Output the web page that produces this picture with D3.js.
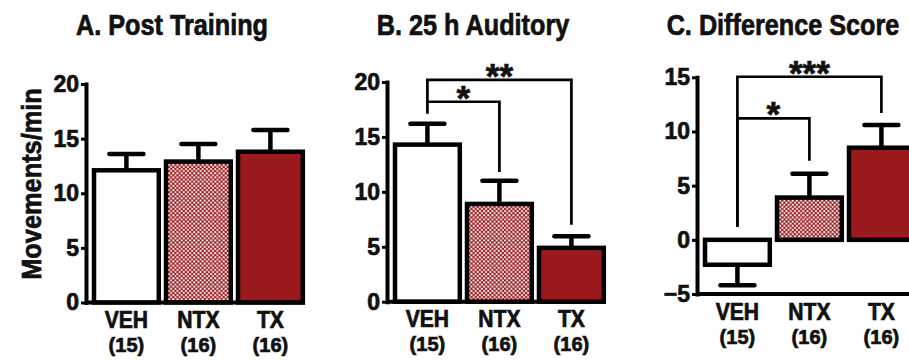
<!DOCTYPE html>
<meta charset="utf-8">
<head>
<script src="https://d3js.org/d3.v7.min.js"></script>
<style>
  body { margin: 0; background: #fff; }
  text { font-family: "Liberation Sans", Arial, sans-serif; font-weight: bold; fill: #111; stroke: #111; stroke-width: 0.7px; }
</style>
</head>
<body>
<div id="chart"></div>
<script>
// groups and sample sizes
var groups = ["VEH", "NTX", "TX"];
var groupN = ["(15)", "(16)", "(16)"];

// panel titles
var titles = ["A. Post Training", "B. 25 h Auditory", "C. Difference Score"];

// means and SEMs
var postMean = [12.1, 12.9, 13.8];
var postSem = [1.5, 1.6, 2.0];
var audMean = [14.3, 8.9, 4.9];
var audSem = [1.9, 2.1, 1.05];
var diffMean = [-2.3, 3.9, 8.5];
var diffSem = [1.9, 2.2, 2.1];

// y axis ticks
var ticksAB = [0, 5, 10, 15, 20];
var ticksC = [-5, 0, 5, 10, 15];

// significance brackets: [from, to, level, left end, right end, label]
var bracketsB = [[0, 1, 18.2, 17.1, 11.8, "*"], [0, 2, 20.2, 18.2, 7.0, "**"]];
var bracketsC = [[0, 1, 11.2, 1.2, 7.3, "*"], [0, 2, 15.05, 1.2, 11.7, "***"]];

var red = "#9b1a1e";

var svg = d3.select("#chart")
  .append("svg")
    .attr("width", 909)
    .attr("height", 362);

// white dots on red for NTX
var pat = svg.append("defs").append("pattern")
    .attr("id", "checks")
    .attr("patternUnits", "userSpaceOnUse")
    .attr("width", 4.2)
    .attr("height", 4.2);
pat.append("rect").attr("width", 4.2).attr("height", 4.2).attr("fill", red);
pat.append("circle").attr("cx", 1.05).attr("cy", 1.05).attr("r", 1.05).attr("fill", "#fff");
pat.append("circle").attr("cx", 3.15).attr("cy", 3.15).attr("r", 1.05).attr("fill", "#fff");

var fills = ["#fff", "url(#checks)", red];

// text squeezed or widened horizontally like the original figure
function label(sel, x, y, txt, size, sx) {
  return sel.append("text")
    .attr("transform", "translate(" + x + "," + y + ") scale(" + sx + ",1)")
    .attr("text-anchor", "middle")
    .style("font-size", size + "px")
    .text(txt);
}

var panels = [
  {title: titles[0], mean: postMean, sem: postSem, domain: [0, 20], ticks: ticksAB, ax: 86, top: 84, bottom: 302.5, brackets: []},
  {title: titles[1], mean: audMean, sem: audSem, domain: [0, 20], ticks: ticksAB, ax: 387, top: 82, bottom: 301.7, brackets: bracketsB},
  {title: titles[2], mean: diffMean, sem: diffSem, domain: [-5, 15], ticks: ticksC, ax: 697, top: 77.3, bottom: 294, brackets: bracketsC}
];

panels.forEach(function(p) {
  var g = svg.append("g");

  var y = d3.scaleLinear().domain(p.domain).range([p.bottom, p.top]);
  var x = d3.scaleBand()
    .domain(groups)
    .range([p.ax + 4.4, p.ax + 220.4])
    .paddingInner(0.1)
    .paddingOuter(0.05);
  var bw = x.bandwidth();

  // error bars (drawn first so the bar outline covers the stem base)
  groups.forEach(function(d, i) {
    var m = p.mean[i];
    var tip = m + (m < 0 ? -p.sem[i] : p.sem[i]);
    var cx = x(d) + bw / 2;
    g.append("line")
      .attr("x1", cx).attr("x2", cx)
      .attr("y1", y(m)).attr("y2", y(tip))
      .attr("stroke", "#000").attr("stroke-width", 4.5);
    g.append("line")
      .attr("x1", cx - 17).attr("x2", cx + 17)
      .attr("y1", y(tip)).attr("y2", y(tip))
      .attr("stroke", "#000").attr("stroke-width", 4.5)
      .attr("stroke-linecap", "round");
  });

  // bars
  g.selectAll("rect.bar")
    .data(groups)
    .enter()
    .append("rect")
    .attr("class", "bar")
    .attr("x", function(d) { return x(d); })
    .attr("y", function(d, i) { return y(Math.max(p.mean[i], 0)); })
    .attr("width", bw)
    .attr("height", function(d, i) { return Math.abs(y(p.mean[i]) - y(0)); })
    .attr("fill", function(d, i) { return fills[i]; })
    .attr("stroke", "#000")
    .attr("stroke-width", 4.5);

  // y axis
  var yAxis = g.append("g")
    .attr("transform", "translate(" + p.ax + ",0)")
    .call(d3.axisLeft(y).tickValues(p.ticks).tickSize(5).tickSizeOuter(0).tickPadding(2));
  yAxis.select(".domain").attr("stroke-width", 4).attr("stroke-linecap", "square");
  yAxis.selectAll(".tick line").attr("stroke-width", 3);
  yAxis.selectAll(".tick text")
    .style("font-size", "23px")
    .style("font-family", "'Liberation Sans', Arial, sans-serif")
    .style("font-weight", "bold")
    .attr("fill", "#111");

  // x axis line at the bottom of the range
  var y0 = y(p.domain[0]);
  g.append("line")
    .attr("x1", p.ax).attr("x2", x(groups[2]) + bw + 2)
    .attr("y1", y0).attr("y2", y0)
    .attr("stroke", "#000").attr("stroke-width", 4);

  // category labels
  groups.forEach(function(d, i) {
    var cx = x(d) + bw / 2;
    label(g, cx, y0 + 25.5, d, 23, 0.92);
    label(g, cx, y0 + 49.5, groupN[i], 20, 1);
  });

  // title
  label(g, p.ax + 86, 35, p.title, 29, 0.87);

  // significance brackets
  p.brackets.forEach(function(b) {
    var xl = x(groups[b[0]]) + bw / 2;
    var xr = x(groups[b[1]]) + bw / 2;
    g.append("path")
      .attr("d", "M" + xl + "," + y(b[3]) + "V" + y(b[2]) + "H" + xr + "V" + y(b[4]))
      .attr("fill", "none")
      .attr("stroke", "#000")
      .attr("stroke-width", 2.7);
    label(g, (xl + xr) / 2, y(b[2]) + 8, b[5], 35, 1);
  });
});

// shared y label
svg.append("text")
  .attr("transform", "translate(41,184) rotate(-90) scale(0.94,1)")
  .attr("text-anchor", "middle")
  .style("font-size", "27px")
  .text("Movements/min");

</script>
</body>
